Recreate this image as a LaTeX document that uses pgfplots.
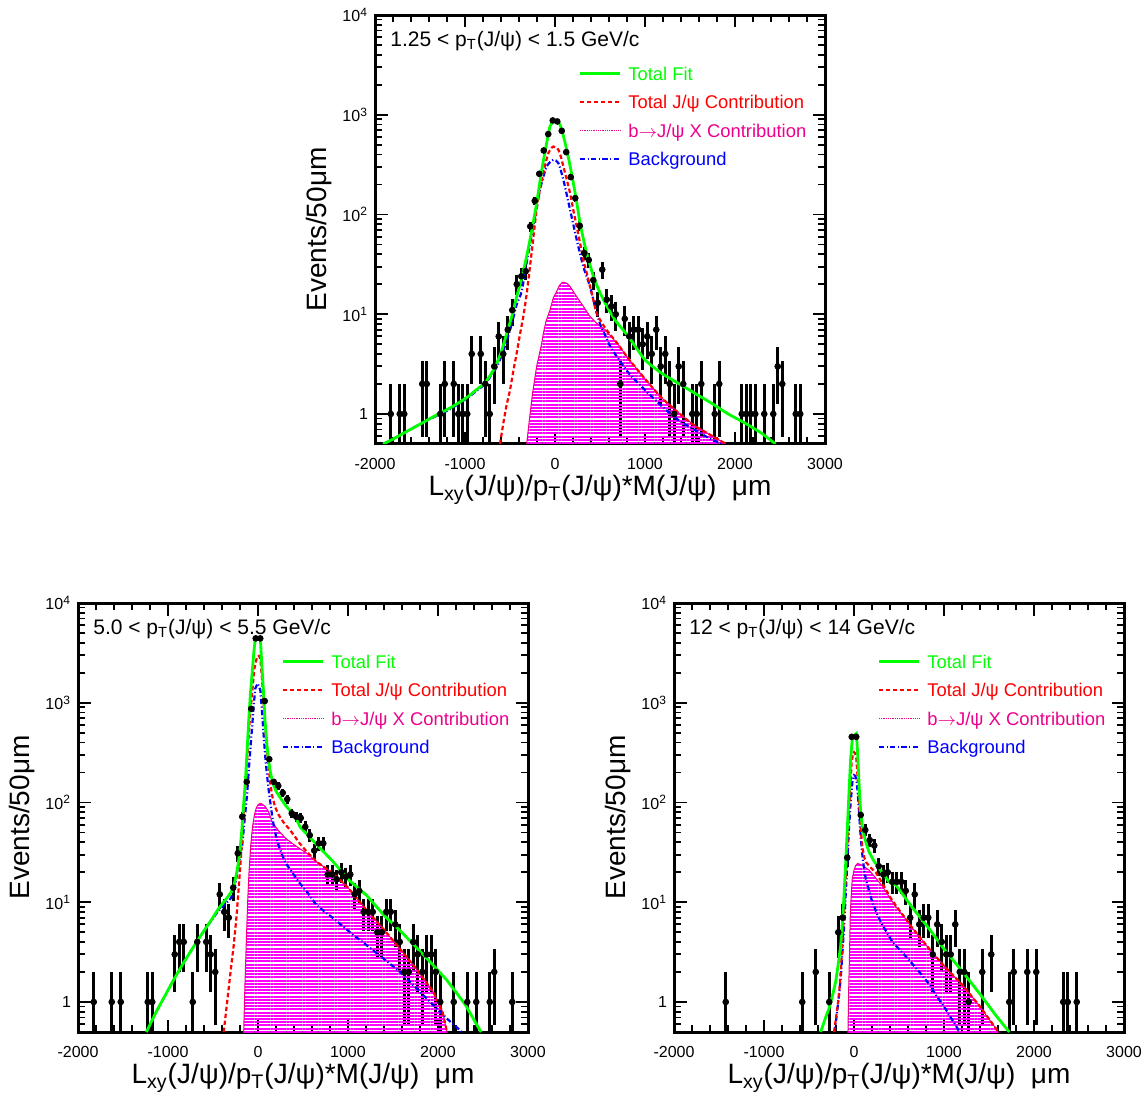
\documentclass[border=0pt]{standalone}
\usepackage{fontspec}
\setmainfont{Liberation Sans}
\usepackage{pgfplots}
\pgfplotsset{compat=1.18}
\usetikzlibrary{patterns.meta}

\newcommand{\legfont}{\fontsize{9.2}{11}\selectfont}
\newcommand{\titfont}{\fontsize{10.5}{12}\selectfont}
\newcommand{\tickfont}{\fontsize{8}{9.6}\selectfont}
\newcommand{\labfont}{\fontsize{14}{16}\selectfont}

\tikzset{
  bfill/.style={draw=magenta, line width=0.5pt,
    pattern={Lines[angle=0,distance=1.6pt,line width=1.0pt]}, pattern color=magenta},
  bkg/.style={blue, line width=1.1pt, dash pattern=on 2.6pt off 1.2pt on 0.6pt off 1.2pt},
  tjpsi/.style={red, line width=1.1pt, dash pattern=on 2.2pt off 1.3pt},
  tfit/.style={green, line width=1.4pt},
}

\newcommand{\rootlegend}{%
  \draw[green, line width=1.7pt] (rel axis cs:0.4556,0.8636) -- (rel axis cs:0.5444,0.8636);
  \node[anchor=base west, inner sep=0, text=green, font=\legfont] at (rel axis cs:0.5622,0.8483) {Total Fit};
  \draw[tjpsi] (rel axis cs:0.4556,0.7972) -- (rel axis cs:0.5444,0.7972);
  \node[anchor=base west, inner sep=0, text=red, font=\legfont] at (rel axis cs:0.5622,0.7818) {Total J/ψ Contribution};
  \draw[magenta, line width=0.9pt, dash pattern=on 0.45pt off 0.45pt] (rel axis cs:0.4556,0.7310) -- (rel axis cs:0.5444,0.7310);
  \node[anchor=base west, inner sep=0, text=magenta, font=\legfont] at (rel axis cs:0.5622,0.7156) {b$\rightarrow$J/ψ X Contribution};
  \draw[bkg] (rel axis cs:0.4556,0.6643) -- (rel axis cs:0.5444,0.6643);
  \node[anchor=base west, inner sep=0, text=blue, font=\legfont] at (rel axis cs:0.5622,0.6490) {Background};
}

\pgfplotsset{
  every tick/.style={black, line width=0.9pt},
  every axis/.append style={
    scale only axis, width=225pt, height=214.5pt,
    tick align=inside,
    major tick length=6.25pt, minor tick length=3.5pt,
    axis line style={line width=1.5pt},
    tick label style={font=\tickfont},
    xticklabel style={yshift=-3.5pt},
    label style={font=\labfont},
    xlabel style={at={(axis description cs:0.5,0)}, anchor=center, yshift=-23pt},
    ylabel style={at={(axis description cs:-0.125,0.5)}, anchor=center},
  },
}

\begin{document}
\begin{tikzpicture}
\useasboundingbox (0,0) rectangle (573pt,549.5pt);

%================ TOP PANEL ================
\begin{axis}[at={(187.5pt,327.5pt)}, anchor=south west,
    xmin=-2000, xmax=3000, ymode=log, ymin=0.5, ymax=10000,
    xtick={-2000,-1000,0,1000,2000,3000},
    xticklabels={-2000,-1000,0,1000,2000,3000},
    minor x tick num=4,
    ytick={1,10,100,1000,10000},
    yticklabels={1,10\textsuperscript{1},10\textsuperscript{2},10\textsuperscript{3},10\textsuperscript{4}},
    minor ytick={0.6,0.7,0.8,0.9,2,3,4,5,6,7,8,9,20,30,40,50,60,70,80,90,200,300,400,500,600,700,800,900,2000,3000,4000,5000,6000,7000,8000,9000},
    xlabel={L\textsubscript{xy}(J/ψ)/p\textsubscript{T}(J/ψ)*M(J/ψ)\ \ μm},
    ylabel={Events/50μm}]
\addplot[only marks, mark=*, mark size=1.45pt, black,
    error bars/.cd, y dir=both, y explicit, error mark=none,
    error bar style={line width=1.5pt, black}]
  table[x=x, y=y, y error plus=ep, y error minus=em] {
x y ep em
-1825 1 1 0.99
-1725 1 1 0.99
-1675 1 1 0.99
-1475 2 1.41 1.41
-1425 2 1.41 1.41
-1275 1 1 0.99
-1225 2 1.41 1.41
-1125 2 1.41 1.41
-1075 1 1 0.99
-1025 1 1 0.99
-975 1 1 0.99
-925 4 2 2
-825 4 2 2
-775 2 1.41 1.41
-725 1 1 0.99
-675 3 1.73 1.73
-625 6 2.45 2.45
-575 4 2 2
-525 7 2.65 2.65
-475 11 3.32 3.32
-425 20 4.47 4.47
-375 24 4.9 4.9
-325 27 5.2 5.2
-275 76 8.72 8.72
-225 137 11.7 11.7
-175 256 16 16
-125 438 20.9 20.9
-75 640 25.3 25.3
-25 877 29.6 29.6
25 857 29.3 29.3
75 690 26.3 26.3
125 422 20.5 20.5
175 237 15.4 15.4
225 146 12.1 12.1
275 77 8.77 8.77
325 41 6.4 6.4
375 35 5.92 5.92
425 22 4.69 4.69
475 13 3.61 3.61
525 28 5.29 5.29
575 14 3.74 3.74
625 12 3.46 3.46
675 10 3.16 3.16
725 2 1.41 1.41
775 9 3 3
825 6 2.45 2.45
875 7 2.65 2.65
925 7 2.65 2.65
975 5 2.24 2.24
1025 6 2.45 2.45
1075 4 2 2
1125 7 2.65 2.65
1175 3 1.73 1.73
1225 4 2 2
1275 2 1.41 1.41
1325 1 1 0.99
1375 3 1.73 1.73
1425 2 1.41 1.41
1525 1 1 0.99
1575 1 1 0.99
1625 2 1.41 1.41
1775 1 1 0.99
1825 2 1.41 1.41
2075 1 1 0.99
2125 1 1 0.99
2175 1 1 0.99
2225 1 1 0.99
2325 1 1 0.99
2425 1 1 0.99
2475 3 1.73 1.73
2525 2 1.41 1.41
2675 1 1 0.99
2725 1 1 0.99
};
\addplot[bfill] table {
x y
-330 0.3
-315 0.5
-280 0.95
-250 1.6
-204 3
-150 5
-130 6.4
-100 8.5
-56 11
-20 14.5
19 17
50 19.5
85 21
130 20.5
167 19
241 15
315 12
389 9.5
463 8.1
556 7.0
700 5.0
814 3.6
1000 2.25
1185 1.45
1400 0.98
1555 0.76
1750 0.6
1900 0.5
1920 0.3
};
\addplot[bkg, smooth, tension=0.4] table {
x y
-1910 0.5
-1800 0.56
-1685 0.64
-1500 0.79
-1315 0.96
-1150 1.14
-981 1.43
-880 1.68
-778 2.0
-700 2.5
-648 2.95
-590 3.9
-537 5.4
-480 8
-426 12.5
-370 17
-315 33
-241 76
-167 177
-93 302
-19 353
37 328
93 223
167 112
241 56
315 30
389 19
444 12
500 8
556 6.2
629 4.5
814 2.6
1000 1.74
1185 1.2
1370 0.87
1555 0.69
1700 0.58
1850 0.5
};
\addplot[tjpsi, smooth, tension=0.4] table {
x y
-611 0.5
-574 0.81
-540 1.2
-500 1.74
-463 2.7
-426 4.06
-389 6.3
-352 9.5
-315 16
-278 30
-241 58
-204 112
-167 180
-130 260
-100 340
-74 412
-40 465
-19 480
10 472
37 446
65 380
93 303
130 225
167 164
204 110
241 76
278 52
315 35
352 26
389 19
426 14
463 10.2
556 7.3
700 5
814 3.6
1000 2.25
1185 1.45
1400 0.98
1555 0.76
1750 0.6
1900 0.5
};
\addplot[tfit, smooth, tension=0.4] table {
x y
-1910 0.5
-1800 0.56
-1685 0.64
-1500 0.79
-1315 0.98
-1150 1.17
-981 1.46
-880 1.73
-778 2.06
-700 2.6
-648 3.2
-590 4.4
-537 6.4
-480 9.5
-426 15
-370 23
-315 38
-260 68
-204 130
-150 270
-100 480
-56 762
-20 850
0 860
30 840
56 795
90 630
130 445
170 300
204 206
240 135
278 82
315 57
352 41
390 31
426 24
480 18
556 13
666 8.8
814 6
999 3.5
1185 2.56
1370 2.03
1555 1.61
1740 1.28
1925 1.0
2111 0.81
2296 0.64
2450 0.5
};
\rootlegend
\node[anchor=base west, inner sep=0, font=\titfont] at (rel axis cs:0.0333,0.9277) {1.25 < p\textsubscript{T}(J/ψ) < 1.5 GeV/c};
\end{axis}

%================ BOTTOM LEFT ================
\begin{axis}[at={(39pt,33.5pt)}, anchor=south west,
    xmin=-2000, xmax=3000, ymode=log, ymin=0.5, ymax=10000,
    xtick={-2000,-1000,0,1000,2000,3000},
    xticklabels={-2000,-1000,0,1000,2000,3000},
    minor x tick num=4,
    ytick={1,10,100,1000,10000},
    yticklabels={1,10\textsuperscript{1},10\textsuperscript{2},10\textsuperscript{3},10\textsuperscript{4}},
    minor ytick={0.6,0.7,0.8,0.9,2,3,4,5,6,7,8,9,20,30,40,50,60,70,80,90,200,300,400,500,600,700,800,900,2000,3000,4000,5000,6000,7000,8000,9000},
    xlabel={L\textsubscript{xy}(J/ψ)/p\textsubscript{T}(J/ψ)*M(J/ψ)\ \ μm},
    ylabel={Events/50μm}]
\addplot[only marks, mark=*, mark size=1.45pt, black,
    error bars/.cd, y dir=both, y explicit, error mark=none,
    error bar style={line width=1.5pt, black}]
  table[x=x, y=y, y error plus=ep, y error minus=em] {
x y ep em
-1825 1 1 0.99
-1625 1 1 0.99
-1525 1 1 0.99
-1225 1 1 0.99
-1175 1 1 0.99
-925 3 1.73 1.73
-875 4 2 2
-825 4 2 2
-725 1 1 0.99
-675 4 2 2
-575 4 2 2
-525 3 1.73 1.73
-475 2 1.41 1.41
-425 12 3.46 3.46
-375 8 2.83 2.83
-325 7 2.65 2.65
-275 14 3.74 3.74
-225 31 5.57 5.57
-175 72 8.49 8.49
-125 161 12.7 12.7
-75 870 29.5 29.5
-25 4420 66.5 66.5
25 4420 66.5 66.5
75 1040 32.2 32.2
125 272 16.5 16.5
175 161 12.7 12.7
225 147 12.1 12.1
275 125 11.2 11.2
325 108 10.4 10.4
375 78 8.83 8.83
425 72 8.49 8.49
475 70 8.37 8.37
525 57 7.55 7.55
575 47 6.86 6.86
625 33 5.74 5.74
675 39 6.24 6.24
725 39 6.24 6.24
775 19 4.36 4.36
825 19 4.36 4.36
875 17 4.12 4.12
925 20 4.47 4.47
975 18 4.24 4.24
1025 19 4.36 4.36
1075 12 3.46 3.46
1125 13 3.61 3.61
1175 8 2.83 2.83
1225 8 2.83 2.83
1275 8 2.83 2.83
1325 5 2.24 2.24
1375 5 2.24 2.24
1425 8 2.83 2.83
1475 8 2.83 2.83
1525 6 2.45 2.45
1575 4 2 2
1625 2 1.41 1.41
1675 2 1.41 1.41
1725 4 2 2
1775 3 1.73 1.73
1825 2 1.41 1.41
1875 3 1.73 1.73
1925 3 1.73 1.73
1975 2 1.41 1.41
2025 1 1 0.99
2175 1 1 0.99
2325 1 1 0.99
2425 1 1 0.99
2575 1 1 0.99
2625 2 1.41 1.41
2825 1 1 0.99
};
\addplot[bfill] table {
x y
-170 0.3
-159 0.5
-145 1.5
-130 4
-115 10
-100 20
-80 38
-60 58
-40 75
-20 88
0 95
26 98
50 96
81 91
120 80
156 64
230 52
304 44
380 39
452 35
544 31
650 25.5
837 19.4
1000 14
1208 8.3
1400 5.3
1578 3.4
1750 2.2
1948 1.26
2050 0.8
2100 0.5
2110 0.3
};
\addplot[bkg] table {
x y
-1240 0.5
-1222 0.54
-1130 0.8
-1030 1.17
-940 1.65
-844 2.33
-750 3.2
-659 4.3
-580 5.5
-511 6.7
-440 8.2
-363 9.6
-300 11
-252 15
-215 24
-178 35
-150 65
-122 118
-95 260
-67 550
-45 1000
-30 1390
-4 1560
26 1340
45 800
63 475
80 290
100 188
118 135
137 100
155 76
174 59
200 46
230 37
267 30
304 25
378 20
452 16
544 12.7
652 9.3
837 6.9
1022 5.0
1208 3.7
1400 2.7
1578 2.0
1750 1.4
1948 0.93
2100 0.68
2245 0.52
2260 0.5
};
\addplot[tjpsi] table {
x y
-381 0.5
-355 0.8
-326 1.36
-300 2.2
-270 3.7
-240 7
-215 13.7
-190 28
-170 55
-146 120
-122 256
-95 600
-67 1200
-40 2200
-11 2890
10 2950
26 2770
45 1700
63 950
90 430
119 219
137 155
156 118
190 90
230 75
285 63
341 55
400 47
452 40
544 32
650 25.5
837 19.4
1000 14
1208 8.3
1400 5.3
1578 3.4
1750 2.2
1948 1.26
2050 0.8
2100 0.5
};
\addplot[tfit] table {
x y
-1240 0.5
-1222 0.54
-1130 0.8
-1030 1.17
-940 1.65
-844 2.33
-750 3.2
-659 4.3
-580 5.5
-511 6.8
-440 8.6
-363 10.5
-300 12.5
-270 14.5
-240 19
-215 26
-195 37
-178 55
-160 95
-141 160
-122 320
-104 645
-85 1200
-67 1900
-45 3300
-30 4400
0 4450
26 4400
45 2200
63 1200
80 620
100 376
118 260
137 203
155 170
174 149
200 130
230 118
267 105
304 94
360 82
415 72
467 57
650 38
837 25.4
1000 17
1208 11.7
1400 7.4
1578 5.2
1750 3.6
1948 2.33
2100 1.65
2300 0.95
2467 0.52
2480 0.5
};
\rootlegend
\node[anchor=base west, inner sep=0, font=\titfont] at (rel axis cs:0.0333,0.9277) {5.0 < p\textsubscript{T}(J/ψ) < 5.5 GeV/c};
\end{axis}

%================ BOTTOM RIGHT ================
\begin{axis}[at={(337pt,33.5pt)}, anchor=south west,
    xmin=-2000, xmax=3000, ymode=log, ymin=0.5, ymax=10000,
    xtick={-2000,-1000,0,1000,2000,3000},
    xticklabels={-2000,-1000,0,1000,2000,3000},
    minor x tick num=4,
    ytick={1,10,100,1000,10000},
    yticklabels={1,10\textsuperscript{1},10\textsuperscript{2},10\textsuperscript{3},10\textsuperscript{4}},
    minor ytick={0.6,0.7,0.8,0.9,2,3,4,5,6,7,8,9,20,30,40,50,60,70,80,90,200,300,400,500,600,700,800,900,2000,3000,4000,5000,6000,7000,8000,9000},
    xlabel={L\textsubscript{xy}(J/ψ)/p\textsubscript{T}(J/ψ)*M(J/ψ)\ \ μm},
    ylabel={Events/50μm}]
\addplot[only marks, mark=*, mark size=1.45pt, black,
    error bars/.cd, y dir=both, y explicit, error mark=none,
    error bar style={line width=1.5pt, black}]
  table[x=x, y=y, y error plus=ep, y error minus=em] {
x y ep em
-1425 1 1 0.99
-575 1 1 0.99
-425 2 1.41 1.41
-275 1 1 0.99
-175 5 2.24 2.24
-125 7 2.65 2.65
-75 28 5.29 5.29
-25 455 21.3 21.3
25 455 21.3 21.3
75 75 8.66 8.66
125 53 7.28 7.28
175 42 6.48 6.48
225 37 6.08 6.08
275 23 4.8 4.8
325 19 4.36 4.36
375 20 4.47 4.47
425 16 4 4
475 16 4 4
525 16 4 4
575 13 3.61 3.61
625 7 2.65 2.65
675 12 3.46 3.46
725 6 2.45 2.45
775 7 2.65 2.65
825 7 2.65 2.65
875 3 1.73 1.73
925 6 2.45 2.45
975 4 2 2
1025 3 1.73 1.73
1075 3 1.73 1.73
1125 6 2.45 2.45
1175 2 1.41 1.41
1225 2 1.41 1.41
1275 1 1 0.99
1425 2 1.41 1.41
1525 3 1.73 1.73
1725 1 1 0.99
1775 2 1.41 1.41
1925 2 1.41 1.41
2025 2 1.41 1.41
2325 1 1 0.99
2375 1 1 0.99
2475 1 1 0.99
};
\addplot[bfill] table {
x y
-80 0.3
-67 0.5
-58 1.5
-50 3
-42 7
-35 10
-20 17
0 21
20 23.5
40 24.5
93 23.5
167 21
241 17.5
315 14.5
400 11
467 9
500 8.3
650 5.5
837 3.4
1000 2.3
1208 1.47
1400 0.9
1578 0.54
1600 0.5
1610 0.3
};
\addplot[bkg] table {
x y
-215 0.5
-204 0.6
-175 1.0
-148 1.7
-130 3
-111 5.4
-92 12
-74 25
-56 55
-37 100
-18 160
0 188
15 185
30 161
43 120
56 80
74 45
93 29.6
111 22
130 17.3
167 13
204 10
260 7.5
315 5.9
370 4.9
426 4.0
500 3.4
600 2.7
726 2.0
837 1.5
911 1.17
1000 0.9
1152 0.54
1170 0.5
};
\addplot[tjpsi] table {
x y
-222 0.5
-195 0.75
-167 1.17
-148 2
-130 3.7
-111 8
-93 17
-74 38
-56 80
-40 150
-26 256
-10 310
0 320
13 310
26 276
40 180
56 101
74 55
93 35
115 28
137 25
190 22
241 20
315 15.5
400 11.3
467 9.2
500 8.4
650 5.5
837 3.4
1000 2.3
1208 1.47
1400 0.9
1578 0.54
1600 0.5
};
\addplot[tfit] table {
x y
-370 0.5
-320 0.68
-278 0.86
-240 1.15
-204 1.59
-175 2.4
-148 3.7
-128 6.5
-111 11.7
-92 25
-74 55
-55 130
-37 276
-19 437
0 470
26 491
37 350
48 219
60 130
74 81
90 60
111 47
135 39
167 32
220 26
278 22
330 19
389 16
467 14.8
556 11.5
650 8.8
837 5.4
1000 3.4
1208 2.0
1400 1.2
1578 0.73
1726 0.5
};
\rootlegend
\node[anchor=base west, inner sep=0, font=\titfont] at (rel axis cs:0.0333,0.9277) {12 < p\textsubscript{T}(J/ψ) < 14 GeV/c};
\end{axis}
\end{tikzpicture}
\end{document}
